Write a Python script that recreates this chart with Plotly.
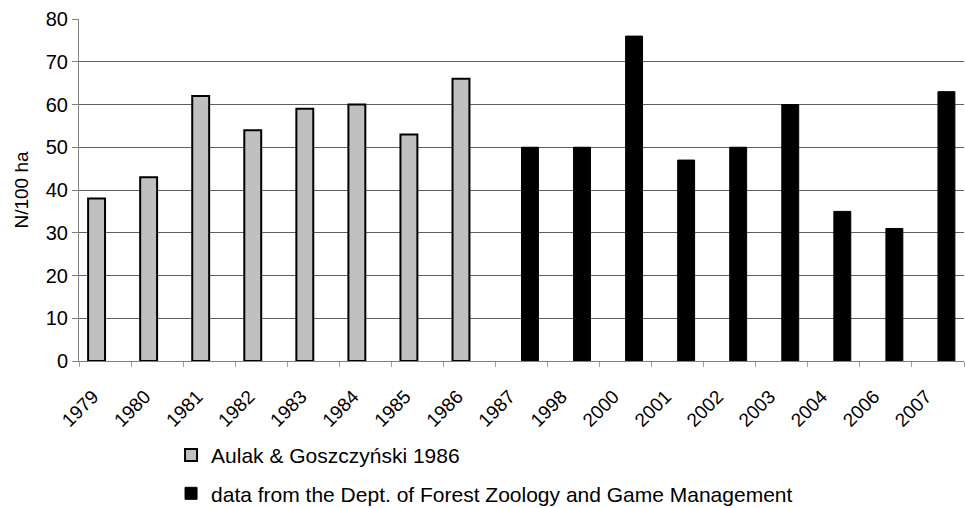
import plotly.graph_objects as go

categories = ["1979", "1980", "1981", "1982", "1983", "1984", "1985", "1986",
              "1987", "1998", "2000", "2001", "2002", "2003", "2004", "2006", "2007"]
aulak_values = [38, 43, 62, 54, 59, 60, 53, 66,
                None, None, None, None, None, None, None, None, None]
dept_values = [None, None, None, None, None, None, None, None,
               50, 50, 76, 47, 50, 60, 35, 31, 63]
series_names = ["Aulak & Goszczyński 1986",
                "data from the Dept. of Forest Zoology and Game Management"]

fig = go.Figure()
fig.add_trace(go.Bar(x=categories, y=aulak_values, name=series_names[0],
                     legendgroup="a",
                     marker=dict(color="#c0c0c0", line=dict(color="black", width=2))))
fig.add_trace(go.Bar(x=categories, y=dept_values, name=series_names[1],
                     legendgroup="b",
                     marker=dict(color="black", line=dict(color="black", width=1))))

fig.update_layout(
    width=965, height=508,
    margin=dict(l=79, r=1, t=19, b=147, autoexpand=False),
    paper_bgcolor="white", plot_bgcolor="white",
    font=dict(family="Liberation Sans, Arial, sans-serif", size=19, color="black"),
    barmode="group", bargap=0.35, bargroupgap=0,
    showlegend=True,
    legend=dict(orientation="v", x=0.104, y=-0.216, xanchor="left", yanchor="top",
                font=dict(size=21), tracegroupgap=8, itemwidth=30,
                bgcolor="rgba(0,0,0,0)"),
)
fig.update_xaxes(type="category", tickangle=-45, showline=True, linecolor="#808080",
                 linewidth=1, ticks="outside", tickson="boundaries", ticklen=5,
                 tickcolor="#a0a0a0", showgrid=False, tickfont=dict(size=19),
                 automargin=False, ticklabelshift=-12, ticklabelstandoff=16)
fig.update_yaxes(range=[0, 80], dtick=10, showline=True, linecolor="#808080",
                 linewidth=1, ticks="outside", ticklen=6, tickcolor="#808080",
                 showgrid=True, gridcolor="#606060", gridwidth=1,
                 tickfont=dict(size=20), automargin=False,
                 title=dict(text="N/100 ha", font=dict(size=19), standoff=12))

fig.write_html("out.html", config={"displayModeBar": False},
               post_script="document.body.style.margin='0px';document.body.style.overflow='hidden';")
